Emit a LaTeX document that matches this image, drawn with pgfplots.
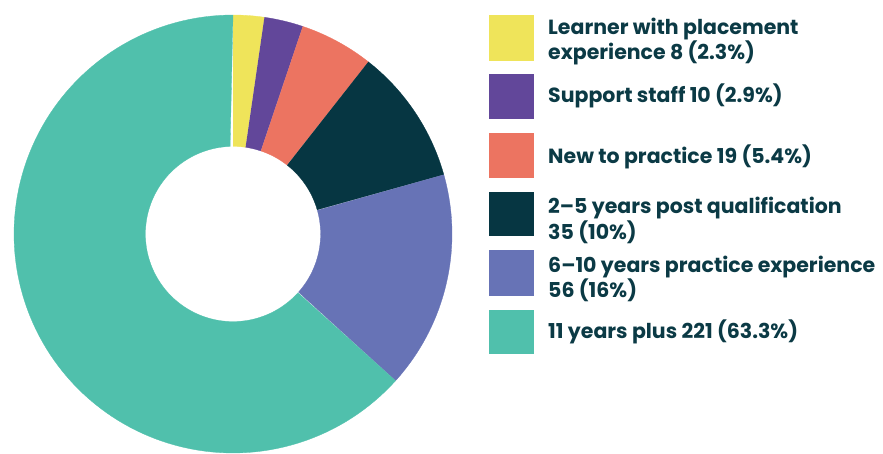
\documentclass[border=0pt]{standalone}
\usepackage{pgfplots}
\usepackage{pgfplotstable}
\pgfplotsset{compat=1.18}
\usepackage{fontspec}
\setmainfont{Poppins}
\definecolor{cYellow}{HTML}{EFE45A}
\definecolor{cPurple}{HTML}{62479A}
\definecolor{cSalmon}{HTML}{EC7461}
\definecolor{cDark}{HTML}{063642}
\definecolor{cBlue}{HTML}{6773B6}
\definecolor{cTeal}{HTML}{50C0AC}
\definecolor{txt}{HTML}{0B3A45}
\pgfplotstableread{
value color
8 cYellow
10 cPurple
19 cSalmon
35 cDark
56 cBlue
221 cTeal
}\slices
\begin{document}
\begin{tikzpicture}[x=1pt,y=1pt]
\path[use as bounding box] (0,0) rectangle (883,453);
\begin{axis}[
  at={(233pt,219pt)}, anchor=origin,
  scale only axis, width=438pt, height=438pt,
  xmin=-1, xmax=1, ymin=-1, ymax=1,
  hide axis, clip=false,
]
\def\total{349}
\def\cum{0}
\pgfplotsforeachungrouped \i in {0,...,5}{
  \pgfplotstablegetelem{\i}{value}\of\slices \let\sv\pgfplotsretval
  \pgfplotstablegetelem{\i}{color}\of\slices \let\sc\pgfplotsretval
  \pgfmathsetmacro{\sa}{90-\cum/\total*360}
  \pgfmathsetmacro{\cumnew}{\cum+\sv}
  \pgfmathsetmacro{\sb}{90-\cumnew/\total*360}
  \edef\temp{\noexpand\addplot[fill=\sc, draw=\sc, line width=0.3pt, domain=0:2, samples=241]
    ({((x<=1)?1:0.4)*cos((x<=1)?(\sa+x*(\sb-\sa)):(\sb+(x-1)*(\sa-\sb)))},
     {((x<=1)?1:0.4)*sin((x<=1)?(\sa+x*(\sb-\sa)):(\sb+(x-1)*(\sa-\sb)))});}
  \temp
  \global\let\cum\cumnew
}
\end{axis}
\begin{scope}[every node/.style={anchor=base west, inner sep=0pt, text=txt, font=\fontsize{20.5}{25}\selectfont\bfseries}]
\fill[cYellow] (489,453-61) rectangle (534,453-15);
\fill[cPurple] (489,453-119) rectangle (534,453-74);
\fill[cSalmon] (489,453-178) rectangle (534,453-133);
\fill[cDark] (489,453-236) rectangle (534,453-192);
\fill[cBlue] (489,453-296) rectangle (534,453-250);
\fill[cTeal] (489,453-354) rectangle (534,453-310);
\node at (548,453-35) {Learner with placement};
\node at (548,453-60) {experience 8 (2.3\%)};
\node at (548,453-103) {Support staff 10 (2.9\%)};
\node at (548,453-164) {New to practice 19 (5.4\%)};
\node at (548,453-213) {2–5 years post qualification};
\node at (548,453-240) {35 (10\%)};
\node at (548,453-272) {6–10 years practice experience};
\node at (548,453-297) {56 (16\%)};
\node at (548,453-338) {11 years plus 221 (63.3\%)};
\end{scope}
\end{tikzpicture}
\end{document}
